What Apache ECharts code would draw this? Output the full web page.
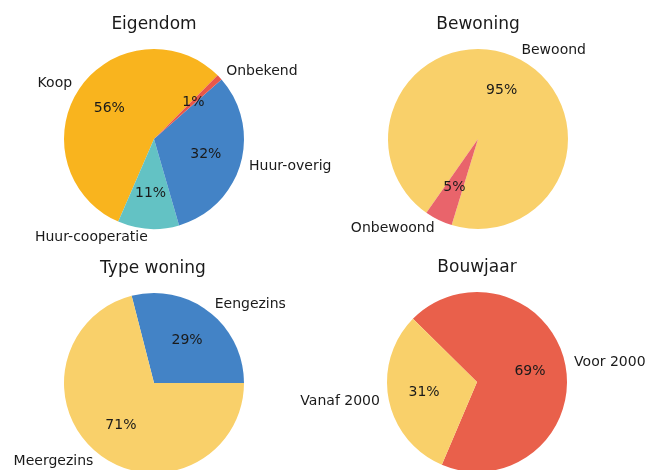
<!DOCTYPE html>
<html>
<head>
    <meta charset="UTF-8">
    <title>Woningen</title>
    <style>
        html, body {margin: 0; padding: 0; background: #fff;}
        #main {width: 651px; height: 470px;}
    </style>
</head>
<body>
<div id="main"></div>
<script src="https://cdn.jsdelivr.net/npm/echarts@6/dist/echarts.min.js"></script>
<script type="text/javascript">
    // data per pie
    var eigendomNames = ['Koop', 'Huur-cooperatie', 'Huur-overig', 'Onbekend'];
    var eigendomValues = [56, 11, 32, 1];
    var eigendomColors = ['#f9b41e', '#63c2c4', '#4383c6', '#e8574a'];

    var bewoningNames = ['Bewoond', 'Onbewoond'];
    var bewoningValues = [95, 5];
    var bewoningColors = ['#f9d06a', '#e9646b'];

    var typeNames = ['Eengezins', 'Meergezins'];
    var typeValues = [29, 71];
    var typeColors = ['#4383c6', '#f9d06a'];

    var bouwjaarNames = ['Voor 2000', 'Vanaf 2000'];
    var bouwjaarValues = [69, 31];
    var bouwjaarColors = ['#e9604b', '#f9d06a'];

    var font = 'DejaVu Sans';
    var R = 90;

    function toData(names, values) {
        return names.map(function (n, i) {
            return {name: n, value: values[i]};
        });
    }

    // one pie = colored series with outer names + clear series with percent
    function pie(names, values, colors, center, start) {
        var data = toData(names, values);
        return [{
            type: 'pie',
            center: center,
            radius: [0, R],
            startAngle: start,
            clockwise: false,
            avoidLabelOverlap: false,
            silent: true,
            color: colors,
            itemStyle: {borderWidth: 0},
            label: {
                show: true,
                position: 'outside',
                formatter: '{b}',
                fontFamily: font,
                fontSize: 14,
                color: '#1a1a1a',
                distanceToLabelLine: 0
            },
            labelLine: {show: false, length: 9, length2: 0},
            data: data
        }, {
            type: 'pie',
            center: center,
            radius: [12, R],
            startAngle: start,
            clockwise: false,
            avoidLabelOverlap: false,
            silent: true,
            itemStyle: {color: 'rgba(0,0,0,0)', borderWidth: 0},
            label: {
                show: true,
                position: 'inside',
                formatter: '{d}%',
                fontFamily: font,
                fontSize: 14,
                color: '#1a1a1a'
            },
            labelLine: {show: false},
            data: data
        }];
    }

    function title(text, x, y) {
        return {
            text: text,
            left: x,
            top: y,
            textAlign: 'center',
            padding: 0,
            textStyle: {fontFamily: font, fontSize: 17, fontWeight: 'normal', color: '#1a1a1a'}
        };
    }

    var myChart = echarts.init(document.getElementById('main'));
    myChart.setOption({
        animation: false,
        title: [
            title('Eigendom', 154, 16),
            title('Bewoning', 478, 16),
            title('Type woning', 153, 260),
            title('Bouwjaar', 477, 259)
        ],
        series: [].concat(
            pie(eigendomNames, eigendomValues, eigendomColors, [154, 139], 45),
            pie(bewoningNames, bewoningValues, bewoningColors, [478, 139], 253),
            pie(typeNames, typeValues, typeColors, [154, 383], 0),
            pie(bouwjaarNames, bouwjaarValues, bouwjaarColors, [477, 382], 247)
        )
    });
</script>
</body>
</html>
